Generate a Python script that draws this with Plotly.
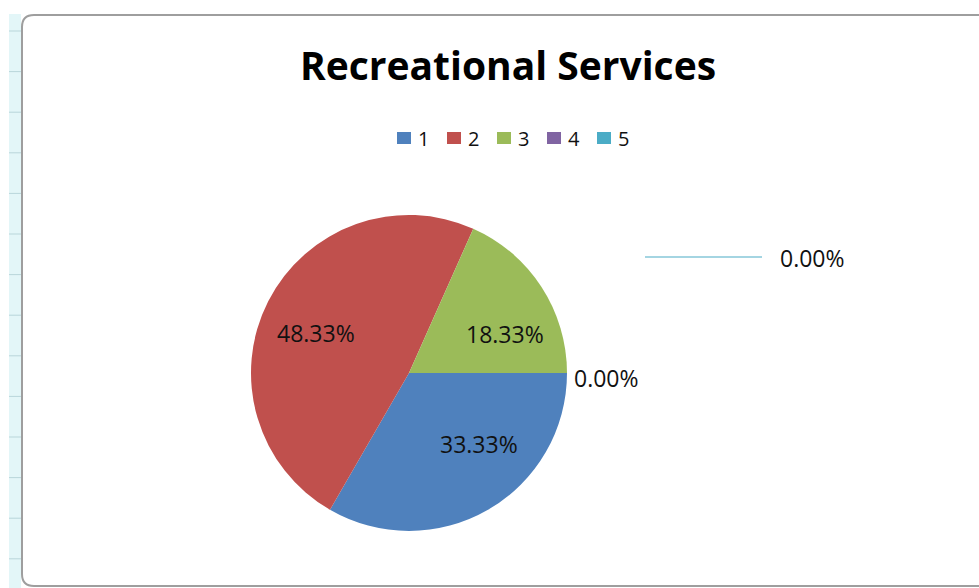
import plotly.graph_objects as go

# ---- data ----
categories = ["1", "2", "3", "4", "5"]
counts = [20, 29, 11, 0, 0]
colors = ["#4F81BD", "#C0504D", "#9BBB59", "#8064A2", "#4BACC6"]
title_text = "Recreational Services"

total = sum(counts)
pct_text = [f"{v / total * 100:.2f}%" for v in counts]

W, H = 979, 588
FONT = "Open Sans"
LABEL_SIZE = 23
TXT = "#111111"

def px(x):
    return x / W

def py(y):
    return 1 - y / H

# pie geometry (pixels)
CX, CY, R = 409, 373, 158
# data-label anchor positions (pixels), Excel-like placement
label_pos = [(479, 444), (316, 333), (505, 334), (572, 378), (778, 258)]
label_anchor = ["center", "center", "center", "left", "left"]

fig = go.Figure()
fig.add_trace(go.Pie(
    labels=categories,
    values=counts,
    marker=dict(colors=colors, line=dict(width=0)),
    sort=False,
    direction="clockwise",
    rotation=90,
    textinfo="none",
    domain=dict(x=[px(CX - R), px(CX + R)], y=[py(CY + R), py(CY - R)]),
    showlegend=False,
    hoverinfo="label+percent",
))

annotations = []
for i, t in enumerate(pct_text):
    lx, ly = label_pos[i]
    annotations.append(dict(x=px(lx), y=py(ly), xref="paper", yref="paper",
                            text=t, showarrow=False,
                            xanchor=label_anchor[i], yanchor="middle",
                            font=dict(family=FONT, size=LABEL_SIZE, color=TXT)))

shapes = []
# legend (Excel style): small swatch + category name
LEG_X0, LEG_DX, LEG_Y = 397, 50, 138
for i, cat in enumerate(categories):
    x0 = LEG_X0 + i * LEG_DX
    shapes.append(dict(type="rect", xref="paper", yref="paper",
                       x0=px(x0), x1=px(x0 + 14), y0=py(LEG_Y + 6), y1=py(LEG_Y - 6),
                       fillcolor=colors[i], line=dict(width=0)))
    annotations.append(dict(x=px(x0 + 19), y=py(LEG_Y), xref="paper", yref="paper",
                            text=cat, showarrow=False, xanchor="left", yanchor="middle",
                            font=dict(family=FONT, size=20, color=TXT)))

# spreadsheet strip on the left
shapes.append(dict(type="rect", xref="paper", yref="paper",
                   x0=px(9), x1=px(21), y0=py(588), y1=py(14),
                   fillcolor="#E3F6F8", line=dict(width=0), layer="below"))
y = 31.0
while y < 580:
    shapes.append(dict(type="line", xref="paper", yref="paper",
                       x0=px(9), x1=px(21), y0=py(y), y1=py(y),
                       line=dict(color="#B9D6DA", width=1), layer="below"))
    y += 40.6
# chart border with rounded corners
r = 12
path = (f"M {W+5},{15} L {22+r},{15} Q {22},{15} {22},{15+r} "
        f"L {22},{586-r} Q {22},{586} {22+r},{586} L {W+5},{586}")
shapes.append(dict(type="path", xref="x", yref="y", path=path,
                   line=dict(color="#9E9E9E", width=2), layer="below"))
# leader line for category 5
shapes.append(dict(type="line", xref="paper", yref="paper",
                   x0=px(645), x1=px(762), y0=py(257), y1=py(257),
                   line=dict(color=colors[4], width=1.2)))

fig.update_layout(
    width=W, height=H,
    margin=dict(l=0, r=0, t=0, b=0),
    paper_bgcolor="white",
    plot_bgcolor="white",
    title=dict(text=f"<b>{title_text}</b>", x=px(508), xanchor="center",
               y=py(66), yanchor="middle",
               font=dict(family=FONT, size=39, color="#000000")),
    showlegend=False,
    xaxis=dict(visible=False, range=[0, W], fixedrange=True),
    yaxis=dict(visible=False, range=[H, 0], fixedrange=True),
    shapes=shapes,
    annotations=annotations,
)

fig.write_html("out.html", config={"displayModeBar": False},
               post_script="document.body.style.margin='0';")
